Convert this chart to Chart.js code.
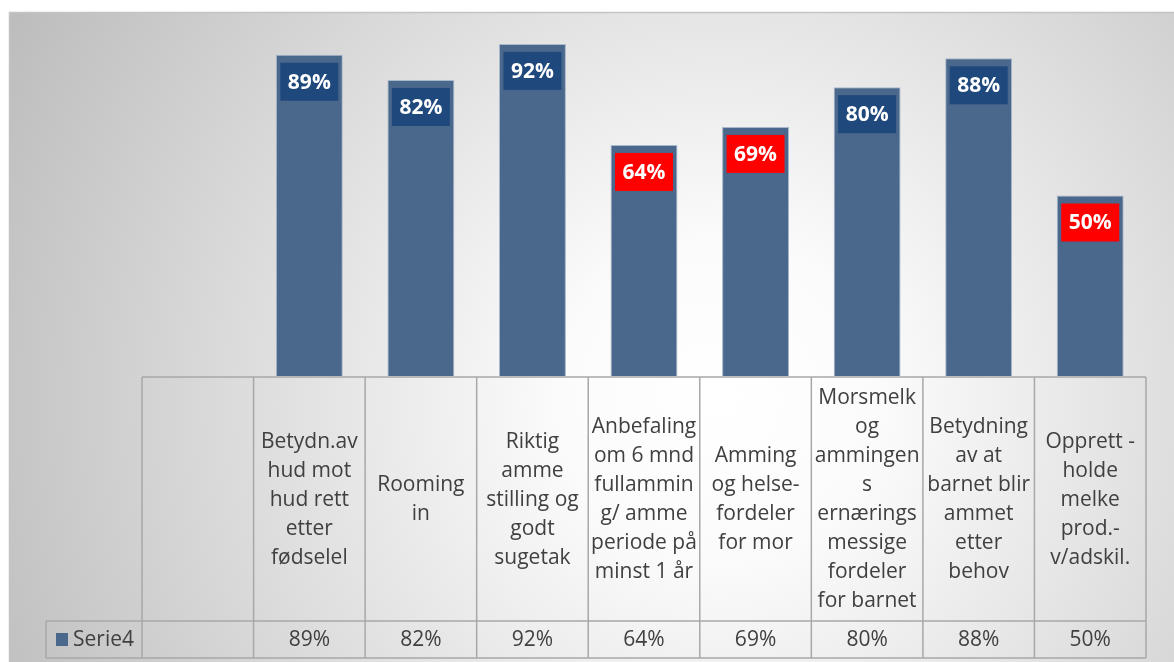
<!DOCTYPE html>
<html>
<head>
<meta charset="utf-8">
<script src="https://cdn.jsdelivr.net/npm/chart.js@4"></script>
<style>
  html, body { margin: 0; padding: 0; background: #fff; }
  #wrap { width: 1174px; height: 662px; }
</style>
</head>
<body>
<div id="wrap"><canvas id="ammeChart" width="1174" height="662"></canvas></div>
<script>
// category text for the table header, one array of lines per column
var categories = [
    [''],
    ['Betydn.av', 'hud mot', 'hud rett', 'etter', 'fødselel'],
    ['Rooming', 'in'],
    ['Riktig', 'amme', 'stilling og', 'godt', 'sugetak'],
    ['Anbefaling', 'om 6 mnd', 'fullammin', 'g/ amme', 'periode på', 'minst 1 år'],
    ['Amming', 'og helse-', 'fordeler', 'for mor'],
    ['Morsmelk', 'og', 'ammingen', 's', 'ernærings', 'messige', 'fordeler', 'for barnet'],
    ['Betydning', 'av at', 'barnet blir', 'ammet', 'etter', 'behov'],
    ['Opprett -', 'holde', 'melke', 'prod.-', 'v/adskil.']
];
var serie4 = [null, 89, 82, 92, 64, 69, 80, 88, 50];
var seriesName = 'Serie4';

var BAR = '#4a678c';
var NAVY = '#1f487c';
var RED = '#ff0000';
var TEXT = '#404040';
var GRID = '#a8a8a8';
var FONT = '"Open Sans", "Noto Sans", sans-serif';

var tableTop = 377, rowSep = 621, tableBottom = 658, legendLeft = 46;

function pct(v) { return v + '%'; }

var backgroundPlugin = {
    id: 'panelBackground',
    beforeDraw: function (chart) {
        var ctx = chart.ctx;
        ctx.save();
        ctx.fillStyle = '#fff';
        ctx.fillRect(0, 0, chart.width, chart.height);
        var g = ctx.createRadialGradient(720, 400, 0, 720, 400, 800);
        g.addColorStop(0, '#ffffff');
        g.addColorStop(0.2, '#fbfbfb');
        g.addColorStop(1, '#bdbdbd');
        ctx.fillStyle = g;
        ctx.fillRect(9, 12, chart.width - 9, chart.height - 12);
        ctx.strokeStyle = '#c4c4c4';
        ctx.lineWidth = 1.5;
        ctx.beginPath();
        ctx.moveTo(9.5, chart.height);
        ctx.lineTo(9.5, 12.5);
        ctx.lineTo(chart.width, 12.5);
        ctx.stroke();
        ctx.restore();
    }
};

var dataTablePlugin = {
    id: 'dataTable',
    afterDraw: function (chart) {
        var ctx = chart.ctx;
        var xs = chart.scales.x;
        var n = categories.length;
        var left = chart.chartArea.left, right = chart.chartArea.right;
        var colW = (right - left) / n;

        ctx.save();
        ctx.strokeStyle = GRID;
        ctx.lineWidth = 1.5;
        ctx.beginPath();
        ctx.moveTo(left, tableTop); ctx.lineTo(right, tableTop);
        ctx.moveTo(legendLeft, rowSep); ctx.lineTo(right, rowSep);
        ctx.moveTo(legendLeft, tableBottom); ctx.lineTo(right, tableBottom);
        ctx.moveTo(legendLeft, rowSep); ctx.lineTo(legendLeft, tableBottom);
        for (var i = 0; i <= n; i++) {
            var x = left + i * colW;
            ctx.moveTo(x, tableTop); ctx.lineTo(x, tableBottom);
        }
        ctx.stroke();

        ctx.fillStyle = TEXT;
        ctx.font = '21px ' + FONT;
        ctx.textAlign = 'center';
        ctx.textBaseline = 'middle';
        var lineH = 29;
        var midHeader = (tableTop + rowSep) / 2 + 1;
        categories.forEach(function (lines, i) {
            var cx = xs.getPixelForValue(i);
            var y0 = midHeader - (lines.length - 1) * lineH / 2;
            lines.forEach(function (t, j) { ctx.fillText(t, cx, y0 + j * lineH); });
            if (serie4[i] != null) {
                ctx.fillText(pct(serie4[i]), cx, (rowSep + tableBottom) / 2 + 1);
            }
        });

        // legend key in the first column of the value row
        ctx.fillStyle = BAR;
        ctx.fillRect(56, 633, 12, 13);
        ctx.fillStyle = TEXT;
        ctx.textAlign = 'left';
        ctx.fillText(seriesName, 73, (rowSep + tableBottom) / 2 + 1);
        ctx.restore();
    }
};

var valueBoxPlugin = {
    id: 'valueBoxes',
    afterDatasetsDraw: function (chart) {
        var ctx = chart.ctx;
        var meta = chart.getDatasetMeta(0);
        ctx.save();
        ctx.font = 'bold 21px ' + FONT;
        ctx.textAlign = 'center';
        ctx.textBaseline = 'middle';
        meta.data.forEach(function (bar, i) {
            var v = serie4[i];
            if (v == null) return;
            var w = 58, h = 38, top = bar.y + 8;
            ctx.fillStyle = v < 75 ? RED : NAVY;
            ctx.fillRect(bar.x - w / 2, top, w, h);
            ctx.fillStyle = '#fff';
            ctx.fillText(pct(v), bar.x, top + h / 2 + 1);
        });
        ctx.restore();
    }
};

var ctx = document.getElementById('ammeChart').getContext('2d');
var ammeChart = new Chart(ctx, {
    type: 'bar',
    data: {
        labels: categories.map(function (l) { return l.join(' '); }),
        datasets: [{
            label: seriesName,
            data: serie4,
            backgroundColor: BAR,
            borderColor: '#a9b8cc',
            borderWidth: 1,
            categoryPercentage: 1,
            barPercentage: 0.6
        }]
    },
    options: {
        responsive: false,
        animation: false,
        layout: { padding: { left: 142, right: 28, top: 15, bottom: 286 } },
        plugins: { legend: { display: false }, tooltip: { enabled: false } },
        scales: {
            x: { display: false, offset: true },
            y: { display: false, min: 0, max: 100 }
        }
    },
    plugins: [backgroundPlugin, dataTablePlugin, valueBoxPlugin]
});
</script>
</body>
</html>
